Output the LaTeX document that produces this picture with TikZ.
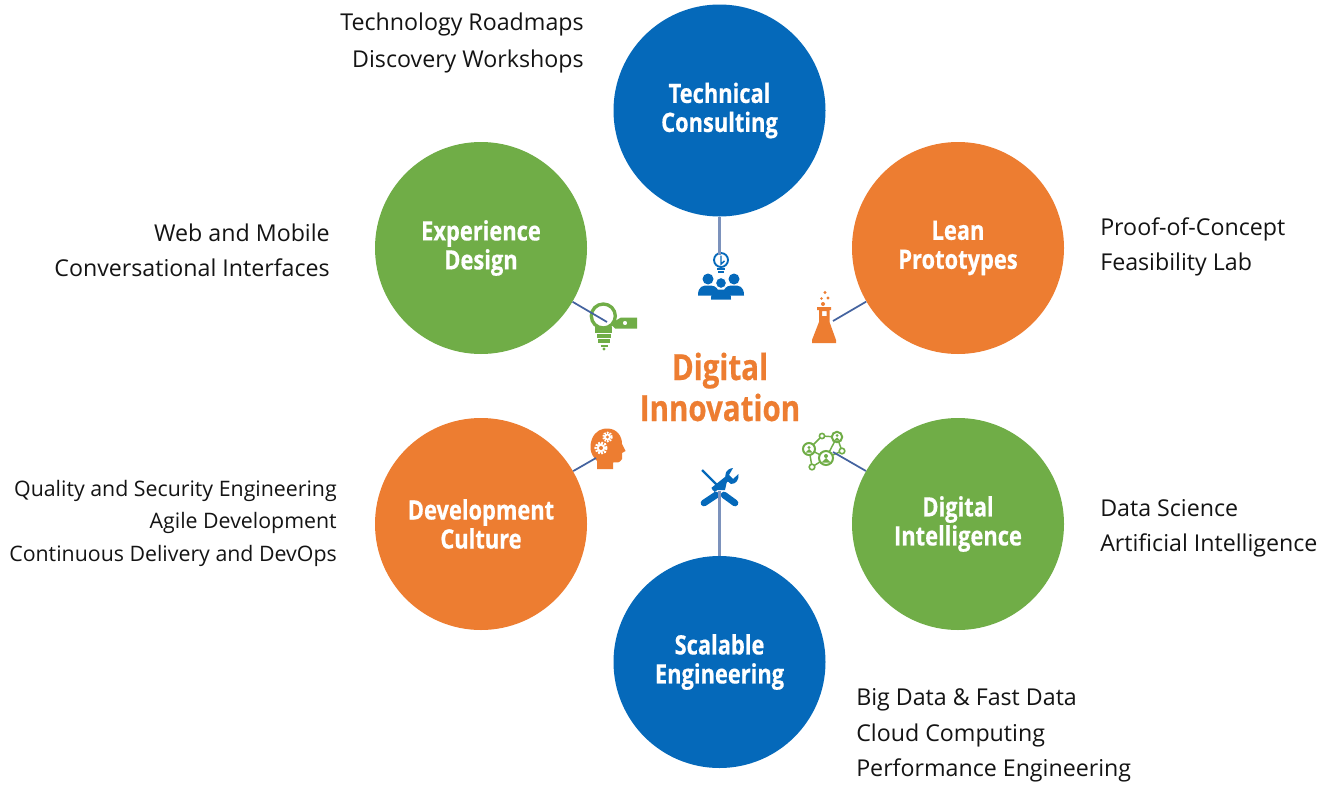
\documentclass[tikz,border=0pt]{standalone}
\usepackage{fontspec}
\setmainfont{Open Sans}
\newfontfamily\headfont[FakeStretch=0.82,FakeBold=0.5]{Open Sans Bold}
\definecolor{cblue}{HTML}{0569BA}
\definecolor{corange}{HTML}{ED7D31}
\definecolor{cgreen}{HTML}{70AD47}
\definecolor{clink}{HTML}{44639F}
\newcommand{\bubbletext}[2]{\raisebox{-2.5pt}{\parbox{150pt}{\centering #1\\#2}}}
\tikzset{
  bubble/.style={circle,minimum size=159pt,inner sep=0pt,text=white,align=center,
    font=\headfont\fontsize{20}{21.75}\selectfont},
  listtext/.style={inner sep=0pt,font=\fontsize{17.4}{20}\selectfont,text=black!92},
  westtext/.style={listtext,anchor=base west},
  easttext/.style={listtext,anchor=base east},
  smalltext/.style={easttext,font=\fontsize{16}{20}\selectfont},
  linkline/.style={draw=clink,line width=1.3pt},
  stemline/.style={draw=clink!70,line width=1.7pt},
}
\begin{document}
\begin{tikzpicture}[x=0.75pt,y=-0.75pt]
\useasboundingbox (0,0) rectangle (1331,785);
\fill[white] (0,0) rectangle (1331,785);
% circles
\node[bubble,fill=cblue]   (tech) at (719.5,110.5) {\bubbletext{Technical}{Consulting}};
\node[bubble,fill=corange] (lean) at (958,248) {\bubbletext{Lean}{Prototypes}};
\node[bubble,fill=cgreen]  (exp)  at (481,248) {\bubbletext{Experience}{Design}};
\node[bubble,fill=corange] (dev)  at (481,524) {\bubbletext{Development}{Culture}};
\node[bubble,fill=cgreen]  (intl) at (958,524) {\bubbletext{Digital}{Intelligence}};
\node[bubble,fill=cblue]   (scal) at (719.5,662) {\bubbletext{Scalable}{Engineering}};
% centre
\node[inner sep=0pt,align=center,text=corange,font=\headfont\fontsize{27}{30.75}\selectfont] (centre) at (720,387) {Digital\\Innovation};
% lists
\node[easttext] (t1) at (584,31) {Technology Roadmaps};
\node[easttext] (t2) at (584,67) {Discovery Workshops};
\node[easttext] (e1) at (330,241) {Web and Mobile};
\node[easttext] (e2) at (330,276) {Conversational Interfaces};
\node[westtext] (l1) at (1100,235) {Proof-of-Concept};
\node[westtext] (l2) at (1100,270) {Feasibility Lab};
\node[smalltext] (d1) at (337,496) {Quality and Security Engineering};
\node[smalltext] (d2) at (337,528) {Agile Development};
\node[smalltext] (d3) at (337,561) {Continuous Delivery and DevOps};
\node[westtext] (i1) at (1100,516) {Data Science};
\node[westtext] (i2) at (1100,551) {Artificial Intelligence};
\node[westtext] (s1) at (856,705) {Big Data \& Fast Data};
\node[westtext] (s2) at (856,741) {Cloud Computing};
\node[westtext] (s3) at (856,776) {Performance Engineering};
% --- icon: consulting
\begin{scope}[cblue]
\draw[line width=1.4pt] (721,260) circle (7);
\draw[line width=1.1pt] (721,255.5) -- (721,264) -- (724.5,261);
\draw[line width=1.2pt] (717,269) -- (725,269) (718,272) -- (724,272);
\fill (708,279) circle (5.5) (734,279) circle (5.5);
\fill (698,295.5) .. controls (698,286) and (703,285.5) .. (708,285.5) .. controls (713,285.5) and (716,286) .. (718,290) -- (712,295.5) -- cycle;
\fill (744,295.5) .. controls (744,286) and (739,285.5) .. (734,285.5) .. controls (729,285.5) and (726,286) .. (724,290) -- (730,295.5) -- cycle;
\fill[draw=white,line width=.8pt] (721,283) circle (5.5);
\fill (711,299.5) .. controls (711,290) and (716,289.5) .. (721,289.5) .. controls (726,289.5) and (731,290) .. (731,299.5) -- cycle;
\end{scope}
% --- icon: bulb with tag
\begin{scope}[cgreen]
\draw[line width=2.5pt] (603.3,316) circle (12);
\draw[line width=2.5pt] (597,327) -- (597,331) -- (610,331) -- (610,327);
\draw[line width=2.3pt] (597,336) -- (611,336) (598,341) -- (610,341);
\draw[line width=2.1pt] (600.5,346) -- (607.5,346);
\fill (604,349) circle (1.7);
\fill[even odd rule] (637,317.5) -- (621,317.5) -- (615,321) -- (611,324) -- (615,328.5) -- (637,328.5) -- cycle (625,323) circle (2.2);
\end{scope}
% --- icon: flask
\begin{scope}[corange]
\fill[even odd rule] (817,307) -- (831,307) -- (831,310) -- (829.5,310) -- (829.5,322) -- (836,340) -- (836,343) -- (812,343) -- (812,340) -- (819,322) -- (819,310) -- (817,310) -- cycle (822,311) rectangle (826.5,316);
\fill (825,292.5) circle (1.6) (828,298) circle (1.6) (821.5,298.5) circle (1.4) (823,304) circle (2);
\end{scope}
% --- icon: head with gears
\begin{scope}
\fill[corange] (597,469) -- (597,461) .. controls (590,454) and (589,447) .. (592,439) .. controls (595,431) and (602,428) .. (608,428.5) .. controls (617,429) and (622,436) .. (622,444) -- (625.5,451) -- (622,453) -- (622,459) .. controls (620,463) and (616,463) .. (613,462.5) -- (613,469) -- cycle;
\draw[white,line width=2pt,dash pattern=on 1.4pt off 0.9pt] (601,448) circle (5.3);
\fill[white] (601,448) circle (4.2);
\fill[corange] (601,448) circle (2);
\draw[white,line width=1.7pt,dash pattern=on 1.2pt off 0.8pt] (607.5,437) circle (4.2);
\fill[white] (607.5,437) circle (3.4);
\fill[corange] (607.5,437) circle (1.6);
\end{scope}
% --- icon: network
\begin{scope}[cgreen]
\draw[line width=1.1pt] (809,449) -- (822,436) -- (837,437) -- (842,451) -- (826,458) -- (812,467) -- (809,449) (837,437) -- (826,458) (809,449) -- (826,458);
\fill[white] (809,449) circle (6) (837,437) circle (5.2) (826,458) circle (7);
\draw[line width=1.5pt] (809,449) circle (6) (837,437) circle (5.2) (826,458) circle (7);
\fill (809,447.5) circle (1.6) (837,435.5) circle (1.5) (826,456) circle (2);
\fill (805.5,452.5) -- (812.5,452.5) -- (809,449) -- cycle;
\fill (833.8,440.5) -- (840.2,440.5) -- (837,437.5) -- cycle;
\fill (821.5,462.5) -- (830.5,462.5) -- (826,458) -- cycle;
\fill[white] (822,436) circle (2.6) (812,467) circle (2.8) (842,451) circle (2.8);
\draw[line width=1.2pt] (822,436) circle (2.6) (812,467) circle (2.8) (842,451) circle (2.8);
\end{scope}
% --- icon: tools
\begin{scope}[cblue]
\draw[line width=1.6pt] (702,470) -- (717,485);
\draw[line width=5pt,line cap=round] (724,495) -- (735,503);
\draw[line width=5pt,line cap=round] (716,495) -- (704,503);
\draw[line width=4pt] (713,490) -- (728,478);
\fill (733,468) .. controls (726,469) and (724,474) .. (726,480) -- (731,484) .. controls (736,484) and (739,480) .. (738.5,474) -- (733,479) -- (729,475) -- cycle;
\fill (712,490) -- (725,490) -- (727,481) -- (724,479) -- cycle;
\end{scope}
% connectors
\coordinate (techend) at (719.5,255);
\coordinate (leanend) at (833,321);
\coordinate (expend) at (607,322);
\coordinate (devend) at (596,458);
\coordinate (intlend) at (833,452);
\coordinate (scalend) at (719.5,491);
\draw[stemline] (tech) -- (techend);
\draw[stemline] (scal) -- (scalend);
\draw[linkline] (lean) -- (leanend);
\draw[linkline] (exp) -- (expend);
\draw[linkline] (dev) -- (devend);
\draw[linkline] (intl) -- (intlend);
\end{tikzpicture}
\end{document}
